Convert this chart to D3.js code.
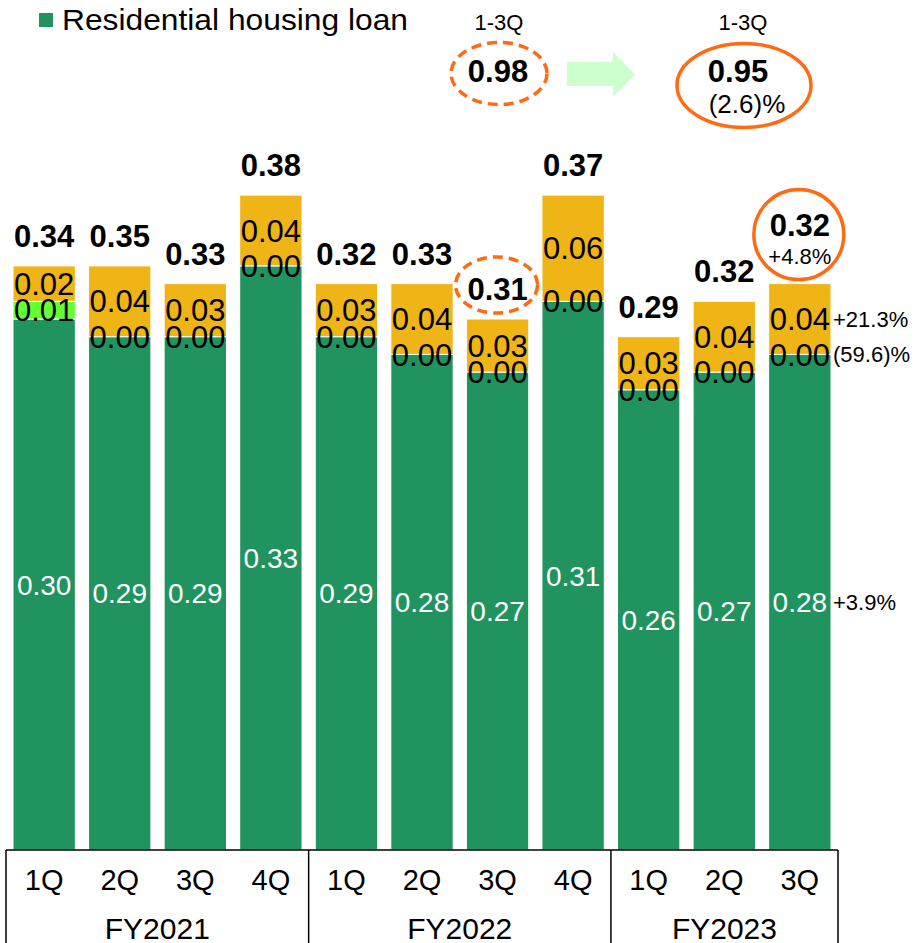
<!DOCTYPE html>
<html>
<head>
<meta charset="utf-8">
<script src="https://cdn.jsdelivr.net/npm/d3@7"></script>
<style>
  body { margin: 0; background: #fff; }
  text { font-family: "Liberation Sans", Arial, sans-serif; }
</style>
</head>
<body>
<div id="chart"></div>
<script>
const quarters = ["1Q", "2Q", "3Q", "4Q", "1Q", "2Q", "3Q", "4Q", "1Q", "2Q", "3Q"];
const fiscalYears = ["FY2021", "FY2022", "FY2023"];

// stacked segments, bottom to top
const housing = [0.30, 0.29, 0.29, 0.33, 0.29, 0.28, 0.27, 0.31, 0.26, 0.27, 0.28];
const middle  = [0.01, 0.00, 0.00, 0.00, 0.00, 0.00, 0.00, 0.00, 0.00, 0.00, 0.00];
const upper   = [0.02, 0.04, 0.03, 0.04, 0.03, 0.04, 0.03, 0.06, 0.03, 0.04, 0.04];
const totals  = [0.34, 0.35, 0.33, 0.38, 0.32, 0.33, 0.31, 0.37, 0.29, 0.32, 0.32];

// YoY notes beside the last bar
const lastNotes = { upper: "+21.3%", middle: "(59.6)%", housing: "+3.9%", total: "+4.8%" };
const summary = { label: "1-3Q", before: 0.98, after: 0.95, change: "(2.6)%" };

const W = 922, H = 943;
const baseY = 850;
const fmt = d3.format(".2f");
const colors = { housing: "#21935f", middle: "#66ff33", upper: "#efb415" };
const orange = "#ff6a13";

const svg = d3.select("#chart").append("svg")
  .attr("width", W)
  .attr("height", H);

const rows = quarters.map((q, i) => ({ i, housing: housing[i], middle: middle[i], upper: upper[i] }));
const keys = ["housing", "middle", "upper"];
const stacked = d3.stack().keys(keys)(rows);

const x = d3.scaleBand()
  .domain(d3.range(quarters.length))
  .range([6, 838])
  .paddingInner(0.175)
  .paddingOuter(0.0925);

const y = d3.scaleLinear().domain([0, 0.40]).range([baseY, baseY - 0.40 * 1770]);

// bars
svg.append("g").selectAll("g")
  .data(stacked)
  .join("g")
  .attr("fill", d => colors[d.key])
  .selectAll("rect")
  .data(d => d)
  .join("rect")
  .attr("x", d => x(d.data.i))
  .attr("y", d => y(d[1]))
  .attr("width", x.bandwidth())
  .attr("height", d => Math.max(0, y(d[0]) - y(d[1])))
  .attr("stroke", "#fff")
  .attr("stroke-width", 1);

// segment labels
stacked.forEach(layer => {
  const isHousing = layer.key === "housing";
  const fs = isHousing ? 28 : 31;
  svg.append("g").selectAll("text")
    .data(layer)
    .join("text")
    .attr("x", d => x(d.data.i) + x.bandwidth() / 2)
    .attr("y", d => (y(d[0]) + y(d[1])) / 2 + fs * 0.36)
    .attr("text-anchor", "middle")
    .attr("font-size", fs)
    .attr("fill", isHousing ? "#fff" : "#000")
    .text(d => fmt(d.data[layer.key]));
});

// totals
const last = quarters.length - 1;
svg.append("g").selectAll("text")
  .data(totals)
  .join("text")
  .attr("x", (d, i) => x(i) + x.bandwidth() / 2)
  .attr("y", (d, i) => y(housing[i] + middle[i] + upper[i]) - (i === last ? 48 : 19))
  .attr("text-anchor", "middle")
  .attr("font-size", 31)
  .attr("font-weight", "bold")
  .text(d => fmt(d));

// highlight marks on totals
const cx3 = x(6) + x.bandwidth() / 2;
svg.append("ellipse")
  .attr("cx", cx3 - 1)
  .attr("cy", y(housing[6] + middle[6] + upper[6]) - 34)
  .attr("rx", 41).attr("ry", 28)
  .attr("fill", "none").attr("stroke", orange)
  .attr("stroke-width", 3.5).attr("stroke-dasharray", "10,6");

const cxL = x(last) + x.bandwidth() / 2;
const topL = y(housing[last] + middle[last] + upper[last]);
svg.append("ellipse")
  .attr("cx", cxL - 1).attr("cy", topL - 49)
  .attr("rx", 45).attr("ry", 45)
  .attr("fill", "none").attr("stroke", orange).attr("stroke-width", 3.5);
svg.append("text")
  .attr("x", cxL).attr("y", topL - 20)
  .attr("text-anchor", "middle").attr("font-size", 22)
  .text(lastNotes.total);

// notes to the right of last bar
const noteX = x(last) + x.bandwidth() + 2;
const lastStack = {};
stacked.forEach(l => { lastStack[l.key] = l[last]; });
["upper", "middle", "housing"].forEach(k => {
  const s = lastStack[k];
  svg.append("text")
    .attr("x", noteX)
    .attr("y", (y(s[0]) + y(s[1])) / 2 + 8)
    .attr("font-size", 22)
    .text(lastNotes[k]);
});

// category axis box
const axis = svg.append("g").attr("stroke", "#000").attr("stroke-width", 1.5);
axis.append("line").attr("x1", 6).attr("x2", 838).attr("y1", baseY).attr("y2", baseY);
const bounds = [0, 4, 8, 11].map(i => i === 11 ? 838 : (i === 0 ? 6 : x(i) - x.step() * x.paddingInner() / 2));
bounds.forEach(bx => {
  axis.append("line").attr("x1", bx).attr("x2", bx).attr("y1", baseY).attr("y2", H);
});

svg.append("g").selectAll("text")
  .data(quarters)
  .join("text")
  .attr("x", (d, i) => x(i) + x.bandwidth() / 2)
  .attr("y", 890)
  .attr("text-anchor", "middle")
  .attr("font-size", 29)
  .text(d => d);

svg.append("g").selectAll("text")
  .data(fiscalYears)
  .join("text")
  .attr("x", (d, j) => (bounds[j] + bounds[j + 1]) / 2)
  .attr("y", 939)
  .attr("text-anchor", "middle")
  .attr("font-size", 30)
  .text(d => d);

// legend
svg.append("rect")
  .attr("x", 39).attr("y", 13).attr("width", 14).attr("height", 14)
  .attr("fill", colors.housing);
svg.append("text")
  .attr("x", 62).attr("y", 30)
  .attr("font-size", 30)
  .attr("textLength", 346)
  .attr("lengthAdjust", "spacingAndGlyphs")
  .text("Residential housing loan");

// 1-3Q summary
svg.append("text").attr("x", 499).attr("y", 30).attr("text-anchor", "middle")
  .attr("font-size", 22).text(summary.label);
svg.append("text").attr("x", 743).attr("y", 30).attr("text-anchor", "middle")
  .attr("font-size", 22).text(summary.label);

svg.append("ellipse")
  .attr("cx", 499).attr("cy", 73.5).attr("rx", 48).attr("ry", 31)
  .attr("fill", "none").attr("stroke", orange)
  .attr("stroke-width", 3.5).attr("stroke-dasharray", "10,6");
svg.append("text").attr("x", 498).attr("y", 82).attr("text-anchor", "middle")
  .attr("font-size", 31).attr("font-weight", "bold").text(fmt(summary.before));

svg.append("path")
  .attr("d", "M567,62 H613 V52 L635,74.5 L613,97 V86 H567 Z")
  .attr("fill", "#ccffcc");

svg.append("ellipse")
  .attr("cx", 744).attr("cy", 85.5).attr("rx", 67).attr("ry", 42)
  .attr("fill", "none").attr("stroke", orange).attr("stroke-width", 3.5);
svg.append("text").attr("x", 738).attr("y", 82).attr("text-anchor", "middle")
  .attr("font-size", 31).attr("font-weight", "bold").text(fmt(summary.after));
svg.append("text").attr("x", 747).attr("y", 113).attr("text-anchor", "middle")
  .attr("font-size", 26).text(summary.change);
</script>
</body>
</html>
